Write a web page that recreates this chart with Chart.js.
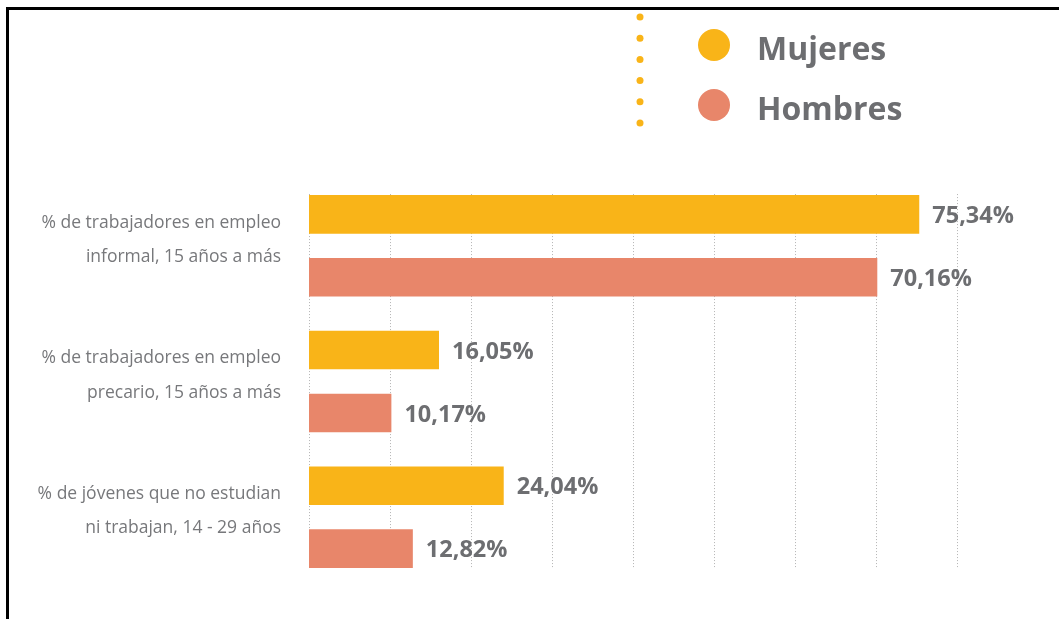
<!DOCTYPE html>
<html>
<head>
<meta charset="utf-8">
<script src="https://cdn.jsdelivr.net/npm/chart.js@4/dist/chart.umd.min.js"></script>
<style>
  html, body { margin: 0; padding: 0; background: #fff; }
  #wrap { position: relative; width: 1059px; height: 619px; }
  #frame { position: absolute; left: 6px; top: 7px; right: 0; bottom: 0;
           border-top: 3px solid #000; border-left: 3px solid #000; pointer-events: none; }
  canvas { display: block; }
</style>
</head>
<body>
<div id="wrap">
  <canvas id="c" width="1059" height="619"></canvas>
  <div id="frame"></div>
</div>
<script>
const categories = [
  ["% de trabajadores en empleo", "informal, 15 años a más"],
  ["% de trabajadores en empleo", "precario, 15 años a más"],
  ["% de jóvenes que no estudian", "ni trabajan, 14 - 29 años"]
];
const seriesNames = ["Mujeres", "Hombres"];
const mujeres = [75.34, 16.05, 24.04];
const hombres = [70.16, 10.17, 12.82];
const axisMin = 0, axisMax = 80, axisStep = 10;

const colMujeres = "#F9B418";
const colHombres = "#E8866A";
const textGrey = "#6d6e71";

const gridPlugin = {
  id: "dottedGrid",
  beforeDatasetsDraw(chart) {
    const x = chart.scales.x;
    const m0 = chart.getDatasetMeta(0).data;
    const m1 = chart.getDatasetMeta(chart.data.datasets.length - 1).data;
    const top = m0[0].y - m0[0].height / 2 - 1;
    const last = m1[m1.length - 1];
    const bottom = last.y + last.height / 2 + 1;
    const ctx = chart.ctx;
    ctx.save();
    ctx.strokeStyle = "#b4b4b4";
    ctx.lineWidth = 1;
    ctx.setLineDash([1, 2]);
    for (let v = axisMin; v <= axisMax; v += axisStep) {
      const px = Math.round(x.getPixelForValue(v)) + 0.5;
      ctx.beginPath();
      ctx.moveTo(px, top);
      ctx.lineTo(px, bottom);
      ctx.stroke();
    }
    ctx.restore();
  }
};

const valueLabels = {
  id: "valueLabels",
  afterDatasetsDraw(chart) {
    const ctx = chart.ctx;
    ctx.save();
    ctx.font = "bold 23.5px 'Open Sans'";
    ctx.fillStyle = textGrey;
    ctx.textAlign = "left";
    ctx.textBaseline = "middle";
    chart.data.datasets.forEach((ds, di) => {
      chart.getDatasetMeta(di).data.forEach((bar, i) => {
        const txt = ds.data[i].toFixed(2).replace(".", ",") + "%";
        ctx.fillText(txt, bar.x + 13, bar.y + 2);
      });
    });
    ctx.restore();
  }
};

const customLegend = {
  id: "customLegend",
  afterDraw(chart) {
    const ctx = chart.ctx;
    ctx.save();
    ctx.fillStyle = colMujeres;
    for (let k = 0; k < 6; k++) {
      ctx.beginPath();
      ctx.arc(640, 17 + k * 21.2, 3.5, 0, Math.PI * 2);
      ctx.fill();
    }
    chart.data.datasets.forEach((ds, i) => {
      const cy = 45 + i * 60;
      ctx.fillStyle = ds.backgroundColor;
      ctx.beginPath();
      ctx.arc(714, cy, 16, 0, Math.PI * 2);
      ctx.fill();
      ctx.fillStyle = textGrey;
      ctx.font = "bold 32px 'Open Sans'";
      ctx.textAlign = "left";
      ctx.textBaseline = "middle";
      ctx.fillText(ds.label, 757, cy + 6);
    });
    ctx.restore();
  }
};

new Chart(document.getElementById("c"), {
  type: "bar",
  data: {
    labels: categories,
    datasets: [
      { label: seriesNames[0], data: mujeres, backgroundColor: colMujeres },
      { label: seriesNames[1], data: hombres, backgroundColor: colHombres }
    ]
  },
  options: {
    indexAxis: "y",
    responsive: false,
    animation: false,
    devicePixelRatio: 1,
    categoryPercentage: 0.927,
    barPercentage: 0.614,
    layout: { padding: { top: 178, bottom: 34, right: 102, left: 0 } },
    plugins: { legend: { display: false }, tooltip: { enabled: false } },
    scales: {
      x: {
        display: false,
        min: axisMin, max: axisMax,
        ticks: { stepSize: axisStep }
      },
      y: {
        grid: { display: false, drawTicks: false },
        border: { display: false },
        ticks: {
          color: "#77787b",
          font: { family: "'Open Sans'", size: 17.5, lineHeight: 1.97 },
          padding: 28,
          labelOffset: -6
        },
        afterFit(scale) {
          scale.width = 309;
          scale.paddingTop = 0;
          scale.paddingBottom = 0;
        }
      }
    }
  },
  plugins: [gridPlugin, valueLabels, customLegend]
});
</script>
</body>
</html>
